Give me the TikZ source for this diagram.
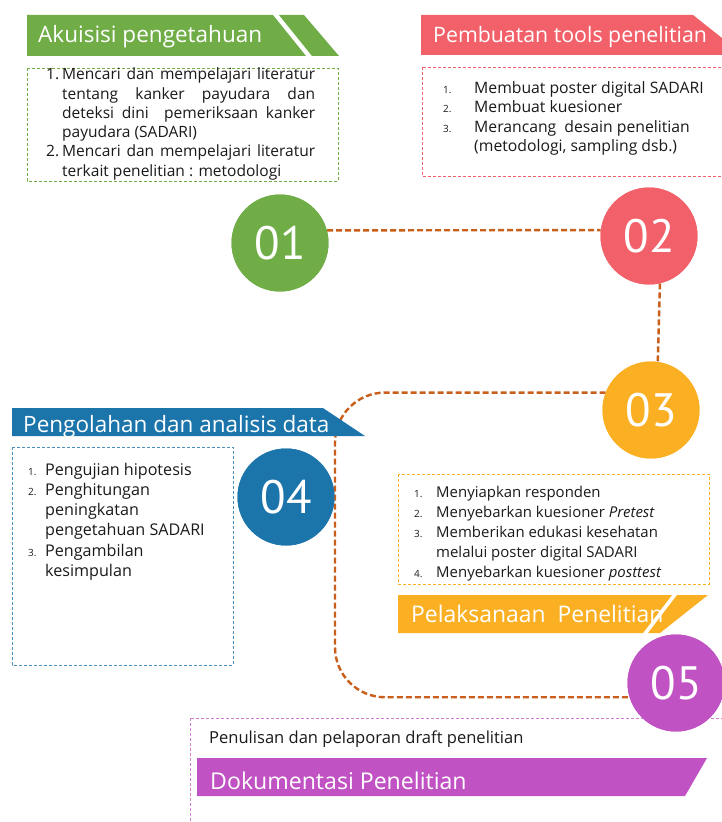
\documentclass[tikz,border=0pt]{standalone}
\usepackage{fontspec}
\setmainfont{Open Sans}
\newfontfamily\bodyfont{Open Sans}
\newfontfamily\banfont{Open Sans}
\newfontfamily\numfont{PT Sans}
\usetikzlibrary{calc}
\definecolor{cgreen}{HTML}{70AD47}
\definecolor{cred}{HTML}{F2616A}
\definecolor{cyel}{HTML}{FBB023}
\definecolor{cblue}{HTML}{1B75AB}
\definecolor{cpurp}{HTML}{C152C3}
\definecolor{cconn}{HTML}{C95F1A}
\definecolor{ctext}{HTML}{1A1A1A}
\newcommand\jline[1]{\hbox to 253bp{\spaceskip=0.2em plus 1fil\relax #1}}
\tikzset{
  conn/.style={draw=cconn, line width=2.4bp, dash pattern=on 6bp off 3bp},
  circ/.style={circle, minimum size=97bp, inner sep=0pt, text=white,
    font=\numfont\fontsize{47}{47}\selectfont},
  bantext/.style={anchor=base west, inner sep=0pt, text=white,
    font=\banfont\fontsize{22.6}{26}\selectfont},
  dbox/.style={line width=0.9bp, dash pattern=on 3bp off 2bp},
  listnode/.style={anchor=base west, inner sep=0pt, text=ctext}
}
\begin{document}
\begin{tikzpicture}[x=1bp,y=-1bp]
\useasboundingbox (0,0) rectangle (722,822);
\clip (0,0) rectangle (722,822);
\fill[white] (0,0) rectangle (722,822);

% circles positions (nodes)
\node[circ, fill=cgreen] (c1) at (280,243) {01};
\node[circ, fill=cred] (c2) at (649,236) {02};
\node[circ, fill=cyel] (c3) at (651,410) {03};
\node[circ, fill=cblue] (c4) at (286,497) {04};
\node[circ, fill=cpurp] (c5) at (676,683) {05};
\coordinate (k) at (335,520);

% connectors
\draw[conn] (c1.15) -- (c2.173);
\draw[conn] (c2.-77) -- (c3.82);
\draw[conn, rounded corners=50bp] (c3.159) -| (k) |- (c5.-163);

% green block
\fill[cgreen] (27,15) -- (273,15) -- (306,56) -- (27,56) -- cycle;
\fill[cgreen] (279,15) -- (304,15) -- (339,56) -- (312,56) -- cycle;
\node[bantext] (t1) at (38,43) {Akuisisi pengetahuan};
\draw[dbox, draw=cgreen] (27,68) rectangle (338,181);
\node[listnode, font=\bodyfont\fontsize{15.6}{19.3}\selectfont] (l1) at (46,80)
 {\begin{tabular}[t]{@{}p{16bp}@{}l@{}}
  1. & \jline{Mencari dan mempelajari literatur}\\
     & \jline{tentang kanker payudara dan}\\
     & \jline{deteksi dini\ \ pemeriksaan kanker}\\
     & payudara (SADARI)\\
  2. & \jline{Mencari dan mempelajari literatur}\\
     & terkait penelitian : metodologi
 \end{tabular}};

% red block
\fill[cred] (421,15) -- (693,15) -- (722,38) -- (722,55) -- (421,55) -- cycle;
\node[bantext, font=\banfont\fontsize{21.4}{26}\selectfont] (t2) at (433,43) {Pembuatan tools penelitian};
\draw[dbox, draw=cred] (422,67) rectangle (740,176);
\node[listnode, font=\bodyfont\fontsize{15.8}{19.7}\selectfont] (l2) at (443,93)
 {\begin{tabular}[t]{@{}p{31bp}@{}l@{}}
  {\fontsize{10}{12}\selectfont 1.} & Membuat poster digital SADARI\\
  {\fontsize{10}{12}\selectfont 2.} & Membuat kuesioner\\
  {\fontsize{10}{12}\selectfont 3.} & Merancang\ \ desain penelitian\\
     & (metodologi, sampling dsb.)
 \end{tabular}};

% blue block
\fill[cblue] (12,408) -- (323,408) -- (365,436) -- (12,436) -- cycle;
\node[bantext] (t4) at (23,432) {Pengolahan dan analisis data};
\draw[dbox, draw=cblue!80] (12,447) rectangle (233,665);
\node[listnode, font=\fontsize{16.2}{20.4}\selectfont] (l4) at (28,475)
 {\begin{tabular}[t]{@{}p{17bp}@{}l@{}}
  {\fontsize{10}{12}\selectfont 1.} & Pengujian hipotesis\\
  {\fontsize{10}{12}\selectfont 2.} & Penghitungan\\
     & peningkatan\\
     & pengetahuan SADARI\\
  {\fontsize{10}{12}\selectfont 3.} & Pengambilan\\
     & kesimpulan
 \end{tabular}};

% orange block
\draw[dbox, draw=cyel] (398,474) rectangle (709,584);
\node[listnode, font=\fontsize{15}{20.2}\selectfont] (l3) at (414,497)
 {\begin{tabular}[t]{@{}p{22bp}@{}l@{}}
  {\fontsize{10}{12}\selectfont 1.} & Menyiapkan responden\\
  {\fontsize{10}{12}\selectfont 2.} & Menyebarkan kuesioner \textit{Pretest}\\
  {\fontsize{10}{12}\selectfont 3.} & Memberikan edukasi kesehatan\\
     & melalui poster digital SADARI\\
  {\fontsize{10}{12}\selectfont 4.} & Menyebarkan kuesioner \textit{posttest}
 \end{tabular}};
\fill[cyel] (398,595) -- (672,595) -- (643,633) -- (398,633) -- cycle;
\fill[cyel] (677,595) -- (708,595) -- (660,633) -- (648,633) -- cycle;
\node[bantext, font=\banfont\fontsize{23}{26}\selectfont] (t3) at (411,622) {Pelaksanaan\ \ Penelitian};

% purple block
\draw[dbox, draw=cpurp!75] (190,718) rectangle (740,840);
\node[listnode, font=\fontsize{16.6}{18}\selectfont] (l5) at (209,743) {Penulisan dan pelaporan draft penelitian};
\fill[cpurp] (197,758) -- (707,758) -- (685,796) -- (197,796) -- cycle;
\node[bantext, font=\banfont\fontsize{23.2}{26}\selectfont] (t5) at (210,789) {Dokumentasi Penelitian};

% circles on top
\node[circ, fill=cgreen] at (c1) {01};
\node[circ, fill=cred] at (c2) {02};
\node[circ, fill=cyel] at (c3) {03};
\node[circ, fill=cblue] at (c4) {04};
\node[circ, fill=cpurp] at (c5) {05};
\end{tikzpicture}
\end{document}
